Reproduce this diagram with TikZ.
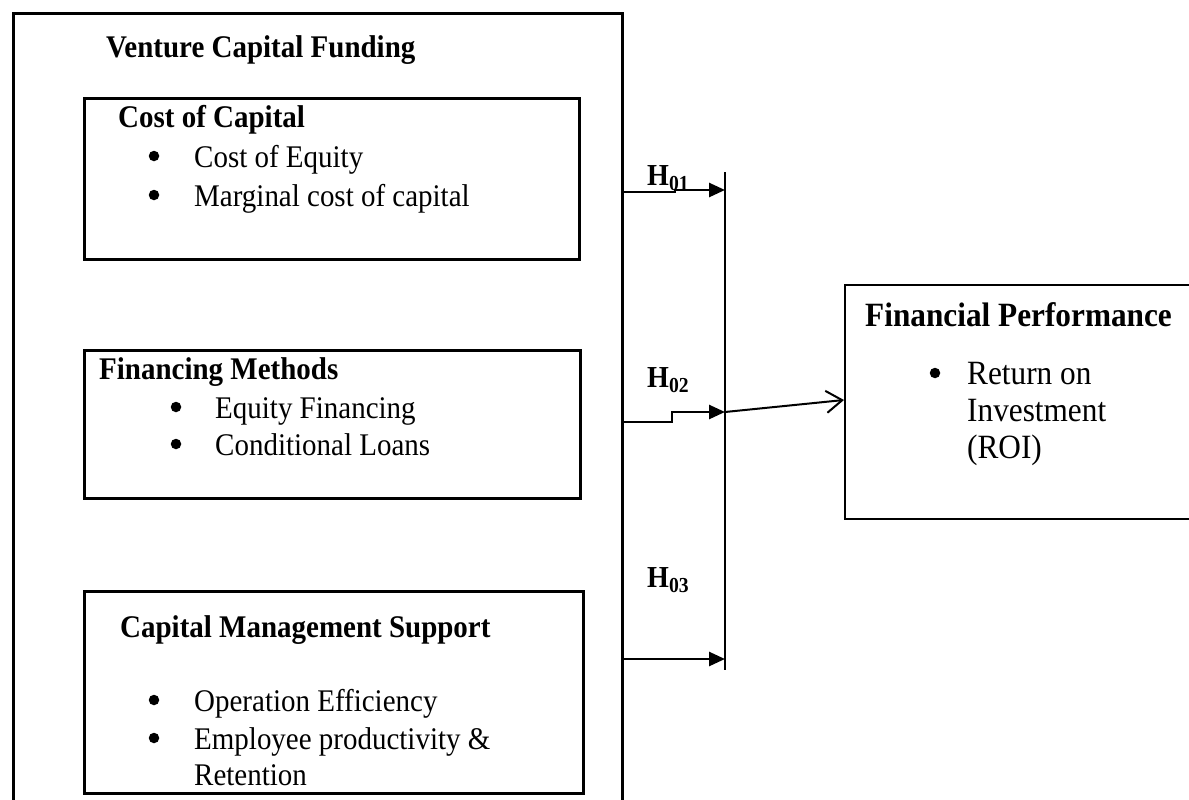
\documentclass[tikz,border=0pt]{standalone}
\usepackage{fontspec}
\setmainfont{Liberation Serif}[FakeStretch=0.92]
\usetikzlibrary{arrows.meta}
\tikzset{
  txt/.style={anchor=base west, inner sep=0pt, font=\fontsize{31.5}{38}\selectfont},
  btxt/.style={txt, font=\fontsize{31.5}{38}\selectfont\bfseries},
  fptxt/.style={anchor=base west, inner sep=0pt, font=\fontsize{34}{40}\selectfont},
  fpbtxt/.style={anchor=base west, inner sep=0pt, font=\fontsize{34}{40}\selectfont\bfseries},
  hlab/.style={anchor=base west, inner sep=0pt, font=\fontsize{30.5}{36}\selectfont\bfseries},
  dot/.style={circle, fill, inner sep=0pt, minimum size=10.5pt},
  thickbox/.style={draw, line width=3pt, inner sep=0pt, anchor=north west},
  arr/.style={line width=2.6pt, -{Triangle[length=16pt,width=14pt]}},
  openarr/.style={line width=2pt, -{Straight Barb[length=16pt,width=22pt]}},
}
\begin{document}
\begin{tikzpicture}[x=1pt,y=-1pt]
\useasboundingbox (0,0) rectangle (1189,800);
% outer box
\node[thickbox, minimum width=609pt, minimum height=800pt] (outer) at (12,12) {};
\node[btxt] (vcf) at (106,58) {Venture Capital Funding};
% box 1
\node[thickbox, minimum width=495pt, minimum height=161pt] (b1) at (83,97) {};
\node[btxt] (b1t) at (118,127) {Cost of Capital};
\node[dot] (b1b1) at (154,156) {};
\node[txt] (b1i1) at (194,167) {Cost of Equity};
\node[dot] (b1b2) at (154,195) {};
\node[txt] (b1i2) at (194,206) {Marginal cost of capital};
% box 2
\node[thickbox, minimum width=496pt, minimum height=148pt] (b2) at (83,349) {};
\node[btxt] (b2t) at (99,379) {Financing Methods};
\node[dot] (b2b1) at (176,407) {};
\node[txt] (b2i1) at (215,418) {Equity Financing};
\node[dot] (b2b2) at (176,444) {};
\node[txt] (b2i2) at (215,455) {Conditional Loans};
% box 3
\node[thickbox, minimum width=499pt, minimum height=202pt] (b3) at (83,590) {};
\node[btxt] (b3t) at (120,637) {Capital Management Support};
\node[dot] (b3b1) at (154,700) {};
\node[txt] (b3i1) at (194,711) {Operation Efficiency};
\node[dot] (b3b2) at (154,738) {};
\node[txt] (b3i2) at (194,749) {Employee productivity \&};
\node[txt] (b3i3) at (194,785) {Retention};
% financial performance
\node[draw, line width=2pt, inner sep=0pt, anchor=north west, minimum width=360pt, minimum height=234pt] (fp) at (844,284) {};
\node[fpbtxt] (fpt) at (865,326) {Financial Performance};
\node[dot] (fpb) at (935,373) {};
\node[fptxt] (fpi1) at (967,384) {Return on};
\node[fptxt] (fpi2) at (967,421) {Investment};
\node[fptxt] (fpi3) at (967,458) {(ROI)};
% vertical collector line
\coordinate (vtop) at (725,172);
\coordinate (vbot) at (725,670);
\draw[line width=1.3pt] (vtop) -- (vbot);
% hypothesis arrows
\coordinate (s1) at (621,192);
\coordinate (e1) at (725,190);
\draw[arr] (s1) -- (675,192) -- (675,190) -- (e1);
\coordinate (s2) at (621,422);
\coordinate (e2) at (725,412);
\draw[arr] (s2) -- (672,422) -- (672,412) -- (e2);
\coordinate (s3) at (621,659);
\coordinate (e3) at (725,659);
\draw[arr] (s3) -- (e3);
\draw[openarr] (e2) -- (fp.west |- 0,400);
% labels
\node[hlab] (h1) at (647,185) {H\textsubscript{01}};
\node[hlab] (h2) at (647,387) {H\textsubscript{02}};
\node[hlab] (h3) at (647,587) {H\textsubscript{03}};
\end{tikzpicture}
\end{document}
